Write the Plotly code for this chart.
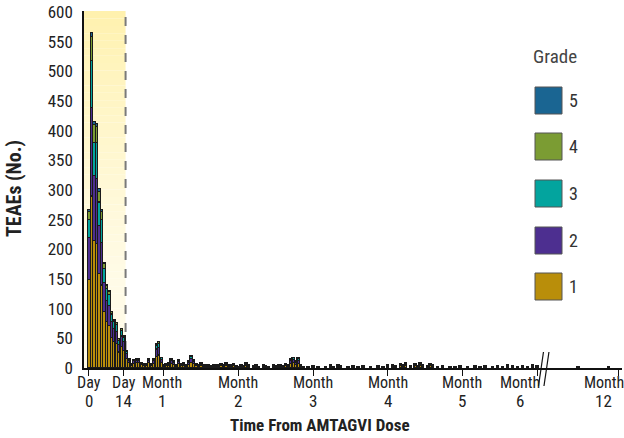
import plotly.graph_objects as go

# ---------------- data ----------------
days = [
    0, 1, 2, 3, 4, 5, 6, 7, 8, 9, 10, 11, 12, 13, 14, 15, 16, 17, 18, 19,
    20, 21, 22, 23, 24, 25, 26, 27, 28, 29, 30,
    31, 32, 33, 34, 35, 36, 37, 38, 39, 40,
    41, 42, 43, 44, 45, 46, 47, 48, 49, 50,
    51, 52, 53, 54, 55, 56, 57, 58, 59, 60,
    61, 62, 63, 64, 66, 67, 68, 70, 71, 72,
    74, 75, 76, 77, 78, 79, 80, 81, 82, 83,
    84, 85, 86, 88, 90, 92, 95, 97, 98, 100,
    101, 104, 106, 108, 110, 113, 116, 118, 120, 122,
    123, 125, 126, 127, 129, 131, 132, 133, 134, 136,
    137, 138, 140, 142, 145, 147, 149, 152, 155, 157,
    159, 162, 164, 166, 168, 170, 172, 174, 176, 178,
    180, 265, 339,
]

grade1 = [
    150, 290, 215, 210, 160, 140, 96, 78, 72, 52, 45, 42, 27, 36, 30, 16, 9, 4, 8, 9,
    9, 6, 4, 4, 9, 4, 8, 20, 22, 10, 3,
    4, 5, 8, 6, 3, 7, 4, 5, 3, 6,
    10, 7, 4, 3, 5, 3, 3, 3, 2, 3,
    3, 3, 4, 3, 5, 3, 3, 4, 2, 2,
    3, 2, 5, 3, 2, 3, 2, 3, 2, 2,
    3, 2, 3, 3, 2, 4, 3, 8, 9, 6,
    8, 3, 2, 1, 2, 2, 2, 3, 2, 3,
    2, 2, 2, 2, 2, 2, 2, 2, 3, 3,
    2, 4, 3, 5, 2, 4, 2, 5, 3, 2,
    4, 3, 2, 2, 2, 2, 2, 2, 2, 2,
    2, 2, 2, 2, 3, 2, 2, 2, 2, 3,
    2, 2, 2,
]
grade2 = [
    70, 150, 110, 110, 80, 72, 48, 36, 34, 26, 22, 20, 13, 18, 14, 8, 4, 2, 4, 4,
    4, 2, 2, 2, 4, 2, 5, 12, 13, 5, 1,
    2, 3, 4, 3, 2, 4, 2, 3, 2, 3,
    6, 4, 2, 2, 3, 2, 1, 2, 1, 1,
    2, 1, 2, 2, 3, 1, 2, 2, 1, 1,
    2, 1, 2, 1, 1, 2, 1, 1, 1, 1,
    2, 1, 1, 2, 1, 2, 1, 4, 5, 3,
    5, 2, 1, 1, 1, 1, 1, 1, 1, 2,
    1, 1, 1, 1, 1, 1, 1, 1, 1, 2,
    1, 2, 1, 2, 1, 2, 1, 3, 1, 1,
    2, 1, 1, 1, 1, 1, 1, 1, 1, 1,
    1, 1, 1, 1, 1, 1, 1, 1, 1, 1,
    1, 1, 1,
]
grade3 = [
    30, 79, 55, 60, 40, 38, 24, 20, 18, 13, 11, 11, 7, 9, 8, 4, 2, 1, 2, 2,
    2, 1, 1, 2, 2, 1, 2, 6, 7, 2, 1,
    1, 1, 3, 2, 1, 2, 1, 1, 1, 2,
    3, 2, 1, 1, 1, 1, 1, 1, 1, 1,
    1, 1, 1, 1, 1, 1, 1, 1, 1, 0,
    1, 1, 1, 1, 1, 1, 0, 1, 1, 0,
    1, 1, 1, 1, 1, 1, 1, 3, 3, 2,
    3, 1, 0, 0, 1, 0, 0, 1, 0, 1,
    1, 0, 1, 0, 1, 0, 1, 0, 1, 1,
    1, 1, 1, 1, 1, 1, 1, 1, 1, 1,
    1, 1, 0, 1, 0, 0, 1, 0, 1, 0,
    1, 0, 1, 0, 1, 1, 0, 1, 0, 1,
    1, 0, 0,
]
grade4 = [
    14, 40, 30, 27, 18, 14, 8, 6, 5, 4, 3, 3, 2, 3, 2, 2, 1, 1, 1, 1,
    1, 1, 1, 0, 1, 1, 1, 2, 2, 1, 0,
    1, 1, 1, 1, 0, 1, 1, 1, 0, 1,
    1, 1, 1, 0, 1, 0, 0, 0, 0, 0,
    0, 0, 1, 0, 1, 0, 0, 1, 0, 0,
    0, 0, 1, 0, 0, 0, 0, 0, 0, 0,
    0, 0, 0, 0, 0, 1, 0, 1, 1, 1,
    1, 0, 0, 0, 0, 0, 0, 0, 0, 0,
    0, 0, 0, 0, 0, 0, 0, 0, 0, 0,
    0, 1, 0, 1, 0, 0, 0, 1, 0, 0,
    1, 0, 0, 0, 0, 0, 0, 0, 0, 0,
    0, 0, 0, 0, 0, 0, 0, 0, 0, 0,
    0, 0, 0,
]
grade5 = [
    3, 6, 5, 5, 4, 3, 2, 1, 1, 1, 1, 1, 1, 1, 1, 0, 0, 0, 0, 0,
    0, 0, 0, 0, 0, 0, 0, 1, 1, 0, 0,
    0, 0, 0, 0, 0, 0, 0, 0, 0, 0,
    1, 0, 0, 0, 0, 0, 0, 0, 0, 0,
    0, 0, 0, 0, 0, 0, 0, 0, 0, 0,
    0, 0, 0, 0, 0, 0, 0, 0, 0, 0,
    0, 0, 0, 0, 0, 0, 0, 0, 0, 0,
    0, 0, 0, 0, 0, 0, 0, 0, 0, 0,
    0, 0, 0, 0, 0, 0, 0, 0, 0, 0,
    0, 0, 0, 0, 0, 0, 0, 0, 0, 0,
    0, 0, 0, 0, 0, 0, 0, 0, 0, 0,
    0, 0, 0, 0, 0, 0, 0, 0, 0, 0,
    0, 0, 0,
]

grade_names = ["1", "2", "3", "4", "5"]
grade_colors = ["#b98e0a", "#4d2f90", "#03a49e", "#7b9c33", "#1a6592"]

tick_days = [0, 14, 30, 60, 90, 120, 150, 180, 365]
tick_word = ["Day", "Day", "Month", "Month", "Month", "Month", "Month", "Month", "Month"]
tick_num = ["0", "14", "1", "2", "3", "4", "5", "6", "12"]
tick_shift = [0, 0, -2, 0, 0, 0, 0, -17, -15]

y_ticks = list(range(0, 601, 50))
highlight_end_day = 14.7

# ---------------- helpers ----------------
BREAK_DAY = 183.0
COMPRESS = 0.164


def axis_pos(d):
    return d if d <= BREAK_DAY else BREAK_DAY + (d - BREAK_DAY) * COMPRESS


FONT = "Roboto Condensed, Liberation Sans Narrow, Roboto, sans-serif"
W, H = 624, 438
ML, MR, MT, MB = 84, 2, 11, 70
PW, PH = W - ML - MR, H - MT - MB
WIN_LEFT, WIN_BOTTOM = ML, H - MB


def px(x):
    return (x - WIN_LEFT) / PW


def py(y):
    return (WIN_BOTTOM - y) / PH


fig = go.Figure()

grades = [grade1, grade2, grade3, grade4, grade5]
for name, col, vals in zip(grade_names, grade_colors, grades):
    xs = [axis_pos(d) for d, v in zip(days, vals) if v > 0]
    ys = [v for v in vals if v > 0]
    fig.add_trace(go.Bar(
        x=xs, y=ys, name=name, width=0.92,
        marker=dict(color=col, line=dict(color="#1a1a1a", width=1.1)),
        showlegend=False,
    ))

shapes = []
# gradient highlight (Day 0 - Day 14)
n_bands = 48
top_c = (255, 241, 172)
bot_c = (255, 251, 231)
for i in range(n_bands):
    y0 = 602 * i / n_bands
    y1 = 602 * (i + 1) / n_bands
    t = 1 - (i + 0.5) / n_bands  # 0 at top, 1 at bottom
    f = min(1.0, t / 0.75) ** 0.8
    c = tuple(int(round(a + (b - a) * f)) for a, b in zip(top_c, bot_c))
    shapes.append(dict(type="rect", xref="x", yref="y", x0=-2.0, x1=highlight_end_day,
                       y0=y0, y1=y1, fillcolor="rgb(%d,%d,%d)" % c,
                       line=dict(width=0), layer="below"))
shapes.append(dict(type="line", xref="x", yref="y", x0=highlight_end_day, x1=highlight_end_day,
                   y0=0, y1=602, line=dict(color="#7a7a7a", width=2, dash="dash"),
                   layer="below"))

# axis break marks
bx = (541 - 89) / 2.49
for off in (0, 2.2):
    shapes.append(dict(type="line", xref="x", yref="paper",
                       x0=bx + off + 1.0, x1=bx + off - 1.0,
                       y0=py(352), y1=py(386),
                       line=dict(color="#111111", width=1.2)))

# legend swatches
sw_y = [87, 133, 180, 227, 273]
leg_order = [4, 3, 2, 1, 0]
annotations = []
for yy, gi in zip(sw_y, leg_order):
    shapes.append(dict(type="rect", xref="paper", yref="paper",
                       x0=px(535), x1=px(562), y0=py(yy + 27), y1=py(yy),
                       fillcolor=grade_colors[gi], line=dict(color="#555555", width=1)))
    annotations.append(dict(xref="paper", yref="paper", x=px(573), y=py(yy + 13.5),
                            text=grade_names[gi], showarrow=False, xanchor="center",
                            yanchor="middle", font=dict(family=FONT, size=18, color="#333333")))
annotations.append(dict(xref="paper", yref="paper", x=px(555), y=py(56), text="Grade",
                        showarrow=False, xanchor="center", yanchor="middle",
                        font=dict(family=FONT, size=19, color="#444444")))

# x tick labels (two lines)
for d, w, n, s in zip(tick_days, tick_word, tick_num, tick_shift):
    xp = axis_pos(d)
    annotations.append(dict(xref="x", yref="paper", x=xp, y=py(382), text=w, xshift=s,
                            showarrow=False, xanchor="center", yanchor="middle",
                            font=dict(family=FONT, size=16, color="#222222")))
    annotations.append(dict(xref="x", yref="paper", x=xp, y=py(401), text=n, xshift=s,
                            showarrow=False, xanchor="center", yanchor="middle",
                            font=dict(family=FONT, size=17, color="#222222")))

# axis titles
annotations.append(dict(xref="paper", yref="paper", x=px(320), y=py(425),
                        text="<b>Time From AMTAGVI Dose</b>", showarrow=False,
                        xanchor="center", yanchor="middle",
                        font=dict(family=FONT, size=17, color="#222222")))
annotations.append(dict(xref="paper", yref="paper", x=px(14), y=py(189),
                        text="<b>TEAEs (No.)</b>", showarrow=False, textangle=-90,
                        xanchor="center", yanchor="middle",
                        font=dict(family=FONT, size=20, color="#222222")))

fig.update_layout(
    width=W, height=H,
    margin=dict(l=ML, r=MR, t=MT, b=MB),
    paper_bgcolor="white", plot_bgcolor="white",
    barmode="stack",
    shapes=shapes, annotations=annotations,
    font=dict(family=FONT, size=16, color="#222222"),
    xaxis=dict(range=[-2.0, 214.06], tickvals=[axis_pos(d) for d in tick_days],
               showticklabels=False, ticks="outside", ticklen=6, tickcolor="#111111",
               tickwidth=1.2, showline=True, linecolor="#111111", linewidth=1.5,
               showgrid=False, zeroline=False),
    yaxis=dict(range=[0, 602], tickvals=y_ticks, ticks="", showline=True,
               linecolor="#111111", linewidth=1.5, showgrid=False, zeroline=False,
               ticklabelstandoff=6, ticklabeloverflow="allow",
               tickfont=dict(family=FONT, size=17, color="#222222")),
)

fig.write_html("out.html",
               config={"displayModeBar": False},
               post_script="document.body.style.margin='0';document.body.style.padding='0';")
